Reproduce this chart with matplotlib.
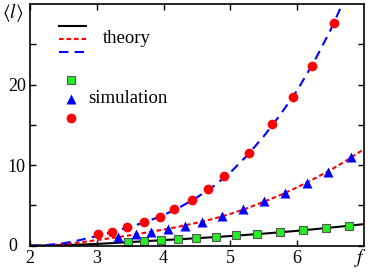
import numpy as np
import matplotlib.pyplot as plt

plt.rcParams['font.family'] = 'Liberation Serif'
plt.rcParams['mathtext.fontset'] = 'stix'

# theory curves
f_th = [2.0, 2.25, 2.5, 2.75, 3.0, 3.25, 3.5, 3.75, 4.0, 4.25, 4.5, 4.75,
        5.0, 5.25, 5.5, 5.75, 6.0, 6.25, 6.5, 6.75, 7.0]
l_black = [0, 0.03, 0.07, 0.14, 0.22, 0.33, 0.45, 0.57, 0.7, 0.81, 0.93, 1.06,
           1.2, 1.35, 1.5, 1.67, 1.85, 2.04, 2.25, 2.46, 2.68]
l_red = [0, 0.05, 0.18, 0.4, 0.7, 0.98, 1.3, 1.65, 2.0, 2.4, 2.85, 3.35,
         3.95, 4.65, 5.45, 6.3, 7.25, 8.3, 9.4, 10.65, 12.0]
l_blue = [0, 0.08, 0.3, 0.7, 1.2, 1.75, 2.35, 3.0, 3.8, 4.8, 6.0, 7.4,
          9.1, 11.2, 13.6, 16.3, 19.3, 22.8, 26.8, 31.4, 36.5]

# simulation points
f_sq = [3.47, 3.71, 3.96, 4.22, 4.49, 4.79, 5.08, 5.40, 5.74, 6.09, 6.43, 6.78]
l_sq = [0.5, 0.58, 0.74, 0.83, 0.91, 1.07, 1.28, 1.44, 1.69, 1.94, 2.22, 2.47]
f_tri = [3.32, 3.58, 3.81, 4.07, 4.32, 4.58, 4.88, 5.19, 5.50, 5.81, 6.15, 6.46, 6.81]
l_tri = [1.03, 1.44, 1.73, 2.06, 2.43, 3.0, 3.67, 4.57, 5.56, 6.5, 7.8, 9.2, 11.0]
f_circ = [3.02, 3.23, 3.45, 3.70, 3.94, 4.16, 4.42, 4.66, 4.90, 5.28, 5.62, 5.94, 6.22, 6.55]
l_circ = [1.4, 1.73, 2.27, 2.96, 3.6, 4.6, 5.7, 7.0, 8.7, 11.5, 15.1, 18.5, 22.3, 27.7]

sq_style = dict(ls='none', marker='s', color='#22ee22', mec='#555555', mew=0.8, ms=5.5)
tri_style = dict(ls='none', marker='^', color='blue', mec='none', ms=7.5)
circ_style = dict(ls='none', marker='o', color='red', mec='none', ms=7)
red_dash = (2.2, 1.4)
blue_dash = (4.5, 3)

fig = plt.figure(figsize=(3.73, 2.73), dpi=100)
ax = fig.add_axes([0.0804, 0.1, 0.8956, 0.885])

ax.plot(f_th, l_black, color='black', lw=1.5)
ax.plot(f_th, l_red, color='red', lw=1.5, dashes=red_dash)
ax.plot(f_th, l_blue, color='blue', lw=1.5, dashes=blue_dash)

ax.plot(f_sq, l_sq, **sq_style)
ax.plot(f_tri, l_tri, **tri_style)
ax.plot(f_circ, l_circ, **circ_style)

ax.set_xlim(2, 7)
ax.set_ylim(0, 30)
ax.set_xticks([2, 3, 4, 5, 6])
ax.set_yticks([0, 10, 20])
ax.set_yticklabels(['', '10', '20'])
ax.set_yticks([5, 15, 25], minor=True)
ax.tick_params(direction='in', top=True, right=True, labelsize=13, length=4, width=1, pad=3)
ax.tick_params(which='minor', direction='in', right=True, length=4, width=1)
for s in ax.spines.values():
    s.set_linewidth(1.2)

# the "0" label sits lower-left of the corner in the original
fig.text(0.035, 0.097, '0', fontsize=13, ha='center', va='center')

# hand-made legend
tr = ax.transAxes
ax.plot([0.087, 0.168], [0.910, 0.910], color='black', lw=1.5, transform=tr)
ax.plot([0.087, 0.168], [0.855, 0.855], color='red', lw=1.5, dashes=red_dash, transform=tr)
ax.plot([0.087, 0.168], [0.803, 0.803], color='blue', lw=1.5, dashes=blue_dash, transform=tr)
ax.text(0.219, 0.857, 'theory', transform=tr, fontsize=13.5, va='center')
ax.plot([0.123], [0.687], transform=tr, **sq_style)
ax.plot([0.123], [0.607], transform=tr, **tri_style)
ax.plot([0.123], [0.527], transform=tr, **circ_style)
ax.text(0.175, 0.611, 'simulation', transform=tr, fontsize=13.5, va='center')

fig.text(0.005, 0.995, r'$\langle l\rangle$', fontsize=14, va='top')
fig.text(0.968, 0.055, r'$f$', fontsize=14, va='center', ha='center')

fig.savefig('out.png', dpi=100)
